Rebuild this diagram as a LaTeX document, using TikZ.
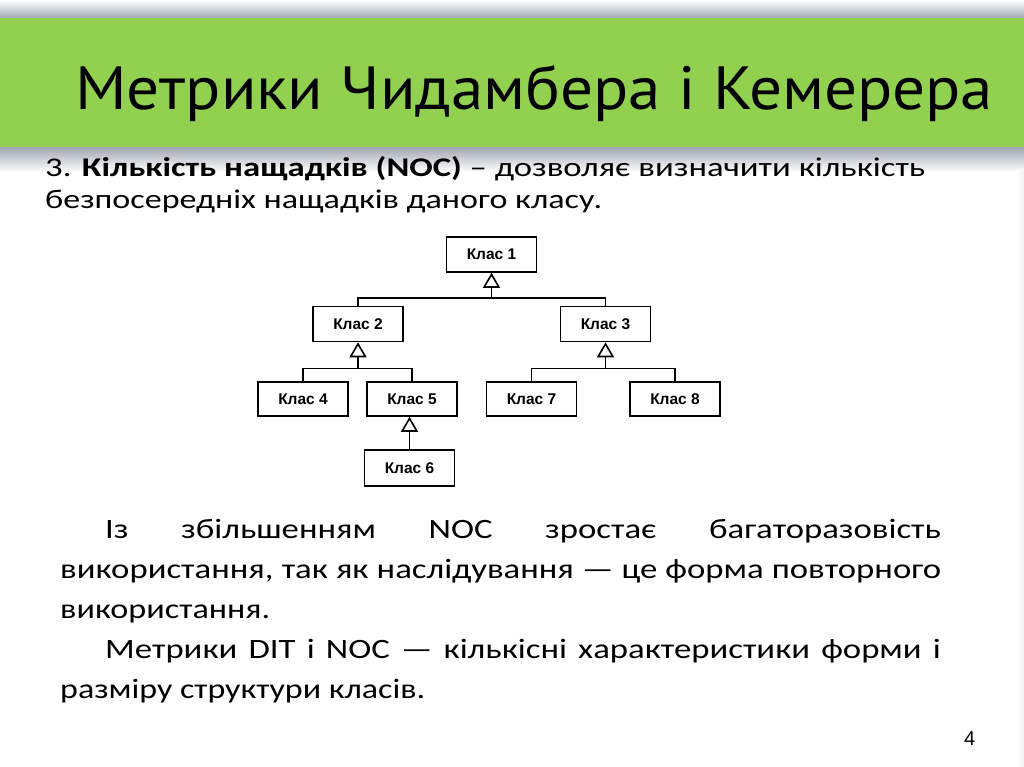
\documentclass[tikz,border=0pt]{standalone}
\usepackage{fontspec}
\setmainfont{Carlito}
\newfontfamily\titlefont{PT Sans}
\newfontfamily\boxfont{Liberation Sans}
\usetikzlibrary{arrows.meta,calc}
\definecolor{slidegreen}{HTML}{92D050}
\definecolor{bandgray}{HTML}{A4AAB3}
\tikzset{
  cls/.style={draw, line width=1.6pt, fill=white, inner sep=0pt,
    minimum width=90pt, minimum height=35pt,
    font=\boxfont\bfseries\fontsize{15.5}{17}\selectfont},
  conn/.style={line width=1.6pt},
  inh/.style={line width=1.6pt, -{Triangle[open, length=15pt, width=17pt, fill=white]}},
  txt/.style={anchor=base west, inner sep=0pt},
  body/.style={txt, font=\fontsize{28}{34}\selectfont},
}
\begin{document}
\begin{tikzpicture}[x=1pt,y=-1pt]
\useasboundingbox (0,0) rectangle (1024,767);
\fill[white] (0,0) rectangle (1024,767);
% header bands
\shade[top color=white, bottom color=bandgray] (0,0) rectangle (1024,18);
\fill[slidegreen] (0,18) rectangle (1024,148);
\shade[top color=bandgray, bottom color=white] (0,148) rectangle (1024,172);
\shade[left color=white, right color=gray!10] (1016,172) rectangle (1024,767);
% title
\node[txt] (title) at (75,110) {\resizebox{918pt}{\height}{\titlefont\fontsize{61}{70}\selectfont Метрики Чидамбера і Кемерера}};
% heading
\node[txt] (h1) at (45,177) {\resizebox{880pt}{\height}{\fontsize{27}{32}\selectfont 3. \textbf{Кількість нащадків (NOC)} – дозволяє визначити кількість}};
\node[txt] (h2) at (45,208) {\resizebox{557pt}{\height}{\fontsize{27}{32}\selectfont безпосередніх нащадків даного класу.}};
% diagram
\node[cls] (k1) at (491.5,254.5) {Клас 1};
\node[cls] (k2) at (358,324) {Клас 2};
\node[cls] (k3) at (605.5,324) {Клас 3};
\node[cls, minimum height=34pt] (k4) at (303,399) {Клас 4};
\node[cls, minimum height=34pt] (k5) at (412,399) {Клас 5};
\node[cls, minimum height=34pt] (k7) at (531.5,399) {Клас 7};
\node[cls, minimum height=34pt] (k8) at (675,399) {Клас 8};
\node[cls, minimum height=36pt] (k6) at (409.5,468) {Клас 6};
\coordinate (j1) at ($(k1.south)+(0,25)$);
\coordinate (j2) at ($(k2.south)+(0,26)$);
\coordinate (j3) at ($(k3.south)+(0,26)$);
\draw[conn] (k2.north) |- (j1);
\draw[conn] (k3.north) |- (j1);
\draw[inh] (j1) -- (k1.south);
\draw[conn] (k4.north) |- (j2);
\draw[conn] (k5.north) |- (j2);
\draw[inh] (j2) -- (k2.south);
\draw[conn] (k7.north) |- (j3);
\draw[conn] (k8.north) |- (j3);
\draw[inh] (j3) -- (k3.south);
\draw[inh] (k6.north) -- (k6.north |- k5.south);
% paragraphs
\node[body] (p1) at (105,538) {\scalebox{1.24}[1]{\makebox[674pt][s]{Із збільшенням NOC зростає багаторазовість}}};
\node[body] (p2) at (60,578) {\scalebox{1.24}[1]{\makebox[710.5pt][s]{використання, так як наслідування — це форма повторного}}};
\node[body] (p3) at (60,618) {\resizebox{210pt}{\height}{використання.}};
\node[body] (p4) at (105,658) {\scalebox{1.24}[1]{\makebox[674pt][s]{Метрики DIT і NOC — кількісні характеристики форми і}}};
\node[body] (p5) at (60,698) {\resizebox{365pt}{\height}{разміру структури класів.}};
% page number
\node[txt] (pg) at (964,745) {\boxfont\fontsize{20}{24}\selectfont 4};
\end{tikzpicture}
\end{document}
